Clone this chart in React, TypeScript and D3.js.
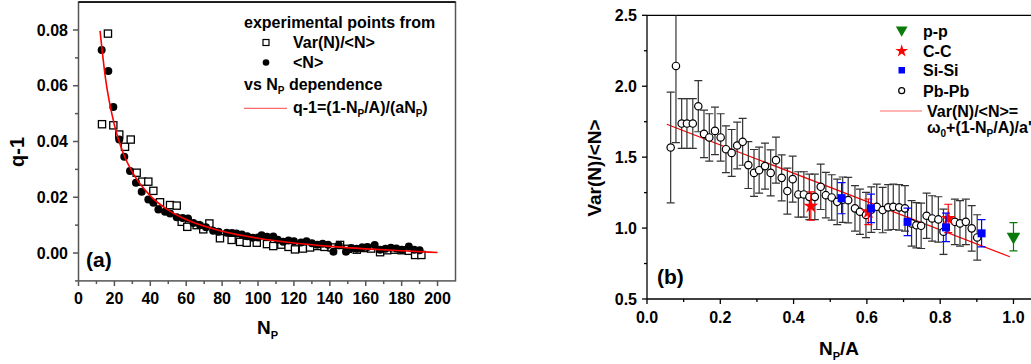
import React from 'react'
import * as d3 from 'd3'

// panel (a): q-1 vs N_P
const varSquares: [number, number][] = [
  [13.1, 0.0462], [16.4, 0.0787], [19.4, 0.0458], [22.7, 0.0425], [25.9, 0.0381],
  [29.1, 0.0407], [32.4, 0.0288], [35.5, 0.0256], [38.9, 0.0256], [41.7, 0.0223],
  [45.4, 0.0182], [51.0, 0.0172], [54.7, 0.017], [57.5, 0.0112], [60.6, 0.0094],
  [65.8, 0.01], [69.5, 0.0085], [72.9, 0.0106], [78.8, 0.0053], [85.3, 0.0047],
  [90.0, 0.004], [93.7, 0.0037], [99.3, 0.0037], [105.0, 0.0032], [108.5, 0.0025],
  [113.0, 0.003], [117.0, 0.0022], [120.6, 0.0013], [125.0, 0.0016], [129.0, 0.002],
  [133.0, 0.0025], [137.0, 0.0022], [141.0, 0.002], [145.7, 0.0029], [150.0, 0.0015],
  [155.0, 0.0012], [159.0, 0.0018], [163.0, 0.0016], [168.0, 0.0003], [172.0, 0.001],
  [176.0, 0.0012], [180.0, 0.001], [184.0, 0.0008], [187.5, -0.0007], [191.0, -0.0007]
]

const meanCircles: [number, number][] = [
  [12.9, 0.0728], [16.6, 0.0653], [19.4, 0.0524], [22.7, 0.0407], [25.5, 0.0345],
  [28.7, 0.0294], [32.0, 0.0252], [35.2, 0.022], [38.9, 0.0192], [41.7, 0.018],
  [44.5, 0.0156], [48.2, 0.0148], [51.0, 0.0142], [54.7, 0.0128], [58.0, 0.0126],
  [61.0, 0.0124], [64.0, 0.0108], [67.7, 0.01], [71.0, 0.0092], [75.0, 0.008],
  [78.0, 0.0076], [82.6, 0.0073], [85.5, 0.0072], [88.0, 0.007], [91.0, 0.0066],
  [94.0, 0.006], [97.0, 0.0055], [100.0, 0.0056], [102.0, 0.0064], [105.0, 0.0058],
  [108.5, 0.0059], [111.0, 0.0048], [114.0, 0.004], [117.0, 0.0045], [120.0, 0.0042],
  [124.0, 0.0038], [127.0, 0.0042], [130.0, 0.0035], [133.0, 0.003], [136.0, 0.0033],
  [139.0, 0.003], [142.0, 0.0005], [145.0, 0.0028], [149.0, 0.0005], [152.0, 0.0018],
  [155.0, 0.0015], [158.0, 0.002], [161.0, 0.0022], [165.0, 0.0029], [168.0, 0.0012],
  [171.0, 0.0015], [174.0, 0.0019], [177.0, 0.0016], [180.0, 0.0012], [184.0, 0.0023],
  [187.0, 0.0012], [190.0, 0.001]
]

const fitA: [number, number][] = [
  [12, 0.0797], [15, 0.0628], [20, 0.0459], [25, 0.0357], [30, 0.029], [40, 0.0205],
  [50, 0.0154], [60, 0.012], [80, 0.0078], [100, 0.0053], [120, 0.0036], [140, 0.0024],
  [160, 0.0015], [180, 0.0008], [200, 0.0002]
]

const ticksAX = [0, 20, 40, 60, 80, 100, 120, 140, 160, 180, 200]
const ticksAY = [0, 0.02, 0.04, 0.06, 0.08]

// panel (b): Var(N)/<N> vs N_P/A  [x, y, err]
const pbpb: [number, number, number][] = [
  [0.0646, 1.568, 0.39], [0.079, 2.143, 0.54], [0.0946, 1.737, 0.175], [0.109, 1.737, 0.175],
  [0.125, 1.737, 0.175], [0.14, 1.859, 0.18], [0.1555, 1.664, 0.167], [0.17, 1.639, 0.167],
  [0.1855, 1.685, 0.167], [0.201, 1.639, 0.167], [0.2155, 1.556, 0.165], [0.231, 1.53, 0.165],
  [0.246, 1.582, 0.165], [0.261, 1.608, 0.165], [0.2765, 1.444, 0.165], [0.292, 1.389, 0.165],
  [0.306, 1.408, 0.162], [0.322, 1.437, 0.162], [0.3375, 1.389, 0.162], [0.352, 1.479, 0.162],
  [0.3675, 1.354, 0.162], [0.383, 1.261, 0.162], [0.3975, 1.345, 0.162], [0.413, 1.237, 0.16],
  [0.428, 1.237, 0.16], [0.443, 1.22, 0.16], [0.458, 1.22, 0.16], [0.474, 1.291, 0.16],
  [0.488, 1.232, 0.16], [0.504, 1.216, 0.16], [0.519, 1.185, 0.16], [0.534, 1.2, 0.16],
  [0.549, 1.197, 0.16], [0.5675, 1.139, 0.16], [0.581, 1.115, 0.16], [0.5975, 1.092, 0.16],
  [0.612, 1.13, 0.16], [0.627, 1.15, 0.16], [0.643, 1.127, 0.16], [0.658, 1.146, 0.16],
  [0.672, 1.15, 0.16], [0.688, 1.146, 0.16], [0.704, 1.139, 0.16], [0.722, 1.033, 0.16],
  [0.735, 1.02, 0.16], [0.748, 1.016, 0.16], [0.763, 1.087, 0.16], [0.778, 1.068, 0.16],
  [0.795, 1.061, 0.16], [0.809, 0.974, 0.16], [0.84, 1.044, 0.16], [0.854, 1.033, 0.16],
  [0.87, 1.044, 0.16], [0.886, 0.998, 0.16], [0.901, 0.934, 0.16]
]
const sisi: [number, number, number][] = [
  [0.531, 1.211, 0.11], [0.611, 1.139, 0.1], [0.711, 1.044, 0.097], [0.816, 1.005, 0.1], [0.913, 0.963, 0.096]
]
const cc: [number, number, number][] = [
  [0.447, 1.155, 0.1], [0.604, 1.115, 0.09], [0.822, 1.068, 0.1]
]
const pp: [number, number, number][] = [[1.0, 0.939, 0.1]]
const fitB: [number, number][] = [[0.054, 1.732], [0.99, 0.798]]

const ticksBX = [0, 0.2, 0.4, 0.6, 0.8, 1.0]
const ticksBY = [0.5, 1.0, 1.5, 2.0, 2.5]

const FONT = '"Liberation Sans", Arial, Helvetica, sans-serif'
const GREEN = '#0a7a0a'
const BLUE = '#0000ff'
const RED = '#ff0000'

export default function App() {
  // panel (a) scales
  const xa = d3.scaleLinear().domain([0, 210]).range([78.5, 455.5])
  const ya = d3.scaleLinear().domain([-0.01, 0.09]).range([280.9, 2.1])
  // panel (b) scales
  const xb = d3.scaleLinear().domain([0, 1.05]).range([647, 1031.8])
  const yb = d3.scaleLinear().domain([0.5, 2.5]).range([299, 15.3])

  const lineA = d3.line<[number, number]>().x(d => xa(d[0])).y(d => ya(d[1])).curve(d3.curveMonotoneX)
  const lineB = d3.line<[number, number]>().x(d => xb(d[0])).y(d => yb(d[1]))

  const star = d3.symbol(d3.symbolStar)
  const tri = d3.symbol(d3.symbolTriangle)

  const minorAX = d3.range(10, 210, 20)
  const minorAY = [-0.01, 0.01, 0.03, 0.05, 0.07]
  const minorBX = [0.1, 0.3, 0.5, 0.7, 0.9]
  const minorBY = [0.75, 1.25, 1.75, 2.25]

  const axA = '#555'
  const tickFmtB = (v: number) => v.toFixed(1)

  const errBar = (d: [number, number, number], color: string, key: string) => {
    const cx = xb(d[0])
    const y1 = yb(d[1] + d[2])
    const y2 = yb(d[1] - d[2])
    return (
      <g key={key} stroke={color} strokeWidth={1.2}>
        <line x1={cx} x2={cx} y1={y1} y2={y2} />
        <line x1={cx - 4} x2={cx + 4} y1={y1} y2={y1} />
        <line x1={cx - 4} x2={cx + 4} y1={y2} y2={y2} />
      </g>
    )
  }

  return (
    <svg width={1031} height={364} style={{ position: 'absolute', left: 0, top: 0, background: '#fff' }}
      fontFamily={FONT} fontWeight="bold">
      <defs>
        <clipPath id="clipA"><rect x={78.5} y={2.1} width={377} height={278.8} /></clipPath>
        <clipPath id="clipB"><rect x={647} y={15.3} width={390} height={283.7} /></clipPath>
      </defs>

      {/* ---------- panel (a) ---------- */}
      <g>
        <rect x={78.5} y={2.1} width={377} height={278.8} fill="none" stroke={axA} strokeWidth={1.5} />
        <line x1={78.5} x2={455.5} y1={2.1} y2={2.1} stroke="#000" strokeWidth={1.5} />
        {ticksAX.map(t => (
          <g key={'ax' + t}>
            <line x1={xa(t)} x2={xa(t)} y1={280.9} y2={286} stroke={axA} strokeWidth={1.5} />
            <text x={xa(t)} y={304} textAnchor="middle" fontSize={16}>{t}</text>
          </g>
        ))}
        {minorAX.map(t => (
          <line key={'amx' + t} x1={xa(t)} x2={xa(t)} y1={280.9} y2={284} stroke={axA} strokeWidth={1.5} />
        ))}
        {ticksAY.map(t => (
          <g key={'ay' + t}>
            <line x1={73} x2={78.5} y1={ya(t)} y2={ya(t)} stroke={axA} strokeWidth={1.5} />
            <text x={68} y={ya(t) + 5.7} textAnchor="end" fontSize={16}>{t.toFixed(2)}</text>
          </g>
        ))}
        {minorAY.map(t => (
          <line key={'amy' + t} x1={75} x2={78.5} y1={ya(t)} y2={ya(t)} stroke={axA} strokeWidth={1.5} />
        ))}

        <text transform="translate(24,152) rotate(-90)" textAnchor="middle" fontSize={20}>q-1</text>
        <text x={257} y={334} fontSize={19}>N<tspan fontSize={11} dy={5}>P</tspan></text>
        <text x={86} y={267} fontSize={21}>(a)</text>

        <g clipPath="url(#clipA)">
          {varSquares.map((d, i) => (
            <rect key={'sq' + i} x={xa(d[0]) - 3.6} y={ya(d[1]) - 3.6} width={7.2} height={7.2}
              fill="#fff" stroke="#000" strokeWidth={1.3} />
          ))}
          {meanCircles.map((d, i) => (
            <circle key={'ci' + i} cx={xa(d[0])} cy={ya(d[1])} r={4} fill="#000" />
          ))}
          <path d={lineA(fitA) || ''} fill="none" stroke={RED} strokeWidth={1.6} />
        </g>

        {/* legend */}
        <g fontSize={16}>
          <text x={244} y={28}>experimental points from</text>
          <rect x={263} y={39.5} width={6} height={6} fill="#fff" stroke="#000" strokeWidth={1.2} />
          <text x={293} y={48}>Var(N)/&lt;N&gt;</text>
          <circle cx={266} cy={62.5} r={3.3} fill="#000" />
          <text x={293} y={68}>&lt;N&gt;</text>
          <text x={244} y={90}>vs N<tspan fontSize={10} dy={4}>P</tspan><tspan dy={-4}> dependence</tspan></text>
          <line x1={244} x2={287} y1={108.3} y2={108.3} stroke="#ff6a6a" strokeWidth={1.2} />
          <text x={293} y={113}>q-1=(1-N<tspan fontSize={10} dy={4}>P</tspan><tspan dy={-4}>/A)/(aN</tspan><tspan fontSize={10} dy={4}>P</tspan><tspan dy={-4}>)</tspan></text>
        </g>
      </g>

      {/* ---------- panel (b) ---------- */}
      <g>
        <line x1={647} x2={1031} y1={15.3} y2={15.3} stroke="#000" strokeWidth={1.3} />
        <line x1={647} x2={647} y1={15.3} y2={299} stroke="#000" strokeWidth={1.3} />
        <line x1={647} x2={1031} y1={299} y2={299} stroke="#000" strokeWidth={1.3} />
        {ticksBX.map(t => (
          <g key={'bx' + t}>
            <line x1={xb(t)} x2={xb(t)} y1={299} y2={304} stroke="#000" strokeWidth={1.3} />
            <text x={xb(t)} y={323} textAnchor="middle" fontSize={16}>{tickFmtB(t)}</text>
          </g>
        ))}
        {minorBX.map(t => (
          <line key={'bmx' + t} x1={xb(t)} x2={xb(t)} y1={299} y2={302} stroke="#000" strokeWidth={1.3} />
        ))}
        {ticksBY.map(t => (
          <g key={'by' + t}>
            <line x1={642} x2={647} y1={yb(t)} y2={yb(t)} stroke="#000" strokeWidth={1.3} />
            <text x={637} y={yb(t) + 5.7} textAnchor="end" fontSize={16}>{tickFmtB(t)}</text>
          </g>
        ))}
        {minorBY.map(t => (
          <line key={'bmy' + t} x1={644} x2={647} y1={yb(t)} y2={yb(t)} stroke="#000" strokeWidth={1.3} />
        ))}

        <text transform="translate(601,168) rotate(-90)" textAnchor="middle" fontSize={19}>Var(N)/&lt;N&gt;</text>
        <text x={819} y={355} fontSize={19}>N<tspan fontSize={11} dy={5}>P</tspan><tspan dy={-5}>/A</tspan></text>
        <text x={657} y={284} fontSize={21}>(b)</text>

        <g clipPath="url(#clipB)">
          <path d={lineB(fitB) || ''} fill="none" stroke={RED} strokeWidth={1.2} />
          {pbpb.map((d, i) => errBar(d, '#333', 'pe' + i))}
          {pbpb.map((d, i) => (
            <circle key={'pc' + i} cx={xb(d[0])} cy={yb(d[1])} r={3.7} fill="#fff" stroke="#000" strokeWidth={1.2} />
          ))}
          {cc.map((d, i) => errBar(d, RED, 'ce' + i))}
          {cc.map((d, i) => (
            <path key={'cs' + i} d={star.size(70)() || ''} transform={`translate(${xb(d[0])},${yb(d[1])})`} fill={RED} />
          ))}
          {sisi.map((d, i) => errBar(d, BLUE, 'se' + i))}
          {sisi.map((d, i) => (
            <rect key={'ss' + i} x={xb(d[0]) - 4} y={yb(d[1]) - 4} width={8} height={8} fill={BLUE} />
          ))}
          {pp.map((d, i) => errBar(d, GREEN, 'ppe' + i))}
          {pp.map((d, i) => (
            <path key={'pt' + i} d={tri.size(80)() || ''} transform={`translate(${xb(d[0])},${yb(d[1])}) rotate(180)`} fill={GREEN} />
          ))}
        </g>

        {/* legend */}
        <g fontSize={16}>
          <path d={tri.size(60)() || ''} transform="translate(901.7,30) rotate(180)" fill={GREEN} />
          <text x={923} y={37}>p-p</text>
          <path d={star.size(50)() || ''} transform="translate(901.7,51)" fill={RED} />
          <text x={923} y={56.5}>C-C</text>
          <rect x={898.5} y={67} width={6.5} height={6.5} fill={BLUE} />
          <text x={923} y={76}>Si-Si</text>
          <circle cx={901.7} cy={90.7} r={3} fill="#fff" stroke="#000" strokeWidth={1.2} />
          <text x={923} y={96.5}>Pb-Pb</text>
          <line x1={880} x2={922} y1={111} y2={111} stroke="#ff6a6a" strokeWidth={1.2} />
          <text x={927} y={117}>Var(N)/&lt;N&gt;=</text>
          <text x={927} y={133}>ω<tspan fontSize={10} dy={4}>0</tspan><tspan dy={-4}>+(1-N</tspan><tspan fontSize={10} dy={4}>P</tspan><tspan dy={-4}>/A)/a'</tspan></text>
        </g>
      </g>
    </svg>
  )
}
